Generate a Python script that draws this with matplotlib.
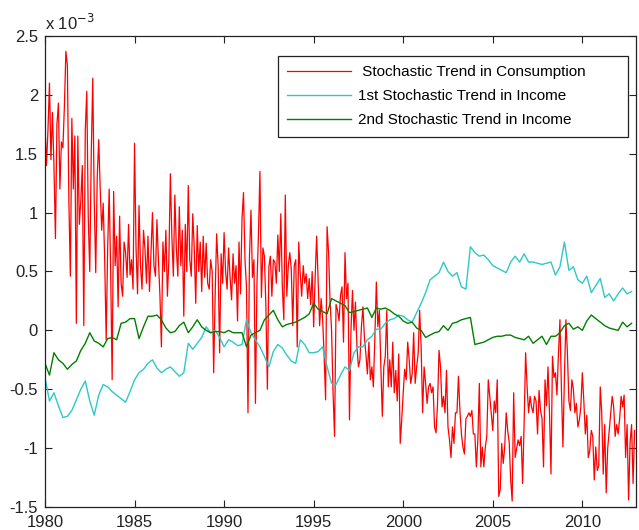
import numpy as np
from matplotlib import pyplot as plt

# Tendencia estocastica en consumo (x 10^-3), mensual, 1980-2012
consumo = [
    1.74, 1.40, 1.70, 2.10, 1.45, 1.85, 1.40, 0.78, 1.75, 1.93, 1.20, 1.60,
    1.55, 1.90, 2.37, 2.25, 1.10, 0.46, 1.80, 1.20, 1.65, 0.06, 1.65, 0.90,
    1.10, 1.40, 0.04, 1.70, 2.03, 0.95, 0.50, 1.50, 2.14, 1.10, 0.49, 1.30,
    1.62, 1.20, 0.85, 1.08, 0.60, -0.08, 0.70, 1.20, 0.50, -0.42, 1.18, 0.55,
    0.80, 0.20, 0.97, 0.40, 0.29, 0.75, 0.66, 0.45, 0.90, 0.47, 0.60, 0.35,
    1.59, 0.70, 0.31, 1.06, 0.55, 0.35, 0.85, 0.69, 0.40, 0.80, 0.33, 0.65,
    1.00, 0.55, 0.46, 0.94, 0.60, 0.30, -0.14, 0.75, 0.50, 0.85, 0.29, 0.60,
    1.33, 0.80, 0.46, 1.15, 0.70, 0.46, 1.05, 0.55, 0.85, 0.12, 0.90, 0.50,
    1.23, 0.60, 0.46, 0.99, 0.70, 0.23, 0.89, 0.50, 0.75, 0.33, 0.80, 0.45,
    0.74, 0.40, 0.35, 0.60, 0.50, -0.36, 0.30, 0.82, 0.55, -0.19, 0.65, 0.40,
    0.83, 0.50, 0.35, 0.70, 0.45, 0.26, 0.65, 0.40, 0.55, 0.08, 0.75, 0.31,
    0.95, 1.17, 0.60, 0.37, -0.70, 0.63, 1.02, 0.45, 0.60, -0.62, 0.39, 0.81,
    1.35, 0.28, 0.70, 0.63, 0.20, -0.50, 0.54, 0.63, 0.29, 0.60, 0.58, 0.40,
    0.81, 0.50, 0.99, 0.37, 0.09, 1.15, 0.29, 0.55, 0.66, 0.52, 0.04, 0.55,
    0.60, -0.14, 0.75, 0.48, 0.29, 0.55, 0.40, 0.48, 0.27, 0.44, 0.22, 0.50,
    0.03, 0.45, 0.80, 0.42, 0.04, 0.27, 0.10, -0.21, -0.59, 0.88, 0.66, 0.24,
    0.00, -0.53, -0.90, 0.22, 0.17, 0.08, 0.30, 0.37, -0.10, 0.66, 0.27, 0.40,
    -0.76, 0.00, 0.34, 0.00, 0.24, -0.14, -0.31, -0.25, 0.03, 0.20, -0.06, -0.20,
    -0.37, -0.10, -0.42, -0.31, -0.48, -0.06, 0.41, 0.03, 0.17, -0.30, -0.73, -0.31,
    -0.22, 0.17, -0.48, -0.25, -0.48, -0.10, -0.53, -0.34, -0.60, -0.20, -0.96, -0.76,
    -0.53, -0.33, -0.42, -0.10, -0.25, -0.45, -0.37, -0.02, -0.45, -0.31, -0.20, 0.17,
    -0.14, -0.70, -0.31, -0.45, -0.62, -0.48, -0.45, -0.53, -0.48, -0.82, -0.87, -0.62,
    -0.17, -0.31, -0.65, -0.56, -0.70, -0.34, -0.82, -0.93, -1.08, -0.82, -0.96, -0.70,
    -0.70, -0.39, -0.68, -0.88, -0.99, -1.05, -0.75, -0.73, -0.70, -0.73, -0.68, -0.88,
    -0.88, -1.16, -0.93, -0.45, -1.16, -0.99, -1.16, -0.99, -0.90, -0.42, -0.56, -0.70,
    -0.85, -0.60, -0.70, -0.42, -1.41, -1.35, -0.96, -1.13, -0.99, -0.70, -0.85, -0.95,
    -1.27, -1.45, -0.53, -1.08, -1.00, -0.93, -0.98, -0.90, -1.30, -0.79, -0.19, -0.48,
    -0.70, -0.56, -0.65, -0.70, -0.56, -0.60, -0.88, -0.51, -0.68, -0.75, -1.16, -0.42,
    -0.64, -0.31, -0.70, -1.22, -0.22, -0.40, -0.36, -0.55, -0.20, 0.09, -0.50, -0.99,
    -0.40, 0.09, -0.19, -0.60, -0.68, -0.42, -0.50, -0.70, -0.62, -0.82, -0.76, -0.65,
    -0.36, -0.60, -0.88, -0.72, -1.08, -1.02, -0.85, -0.90, -1.27, -0.99, -1.19, -1.15,
    -0.48, -0.70, -1.22, -0.80, -1.38, -1.00, -0.85, -0.70, -0.56, -0.65, -0.90, -0.80,
    -0.88, -0.75, -0.56, -0.65, -0.55, -1.08, -0.80, -1.44, -0.95, -0.80, -1.30, -0.85,
]

# Primera tendencia estocastica en ingreso, trimestral
ingreso1 = [
    -0.40, -0.60, -0.53, -0.64,
    -0.74, -0.73, -0.68, -0.59,
    -0.50, -0.43, -0.60, -0.72,
    -0.55, -0.46, -0.48, -0.52,
    -0.55, -0.58, -0.61, -0.52,
    -0.42, -0.36, -0.33, -0.28,
    -0.25, -0.32, -0.36, -0.33,
    -0.31, -0.35, -0.39, -0.36,
    -0.11, -0.16, -0.11, -0.06,
    0.03, -0.02, 0.00, -0.06,
    -0.14, -0.08, -0.10, -0.13,
    -0.12, 0.09, -0.02, -0.08,
    -0.14, -0.22, -0.31, -0.18,
    -0.12, -0.15, -0.21, -0.26,
    -0.28, -0.08, -0.12, -0.19,
    -0.19, -0.18, -0.14, -0.31,
    -0.45, -0.46, -0.38, -0.31,
    -0.34, -0.19, -0.14, -0.14,
    -0.08, -0.05, 0.01, 0.01,
    0.06, 0.09, 0.10, 0.13,
    0.12, 0.09, 0.07, 0.15,
    0.23, 0.32, 0.43, 0.46,
    0.49, 0.58, 0.50, 0.46,
    0.49, 0.37, 0.35, 0.71,
    0.66, 0.63, 0.64, 0.60,
    0.55, 0.53, 0.51, 0.49,
    0.58, 0.63, 0.58, 0.65,
    0.58, 0.58, 0.57, 0.56,
    0.57, 0.58, 0.47, 0.54,
    0.75, 0.51, 0.54, 0.43,
    0.40, 0.46, 0.32, 0.38,
    0.44, 0.28, 0.31, 0.25,
    0.31, 0.36, 0.31, 0.33,
]

# Segunda tendencia estocastica en ingreso, trimestral
ingreso2 = [
    -0.28, -0.38, -0.19, -0.25,
    -0.28, -0.33, -0.29, -0.26,
    -0.17, -0.11, -0.02, -0.09,
    -0.11, -0.14, -0.07, -0.06,
    -0.08, 0.06, 0.07, 0.10,
    0.10, -0.07, 0.03, 0.12,
    0.12, 0.13, 0.09, 0.02,
    -0.02, -0.01, 0.04, 0.07,
    -0.02, 0.03, 0.09, 0.03,
    0.00, -0.02, -0.01, -0.01,
    -0.02, 0.00, -0.02, -0.02,
    -0.02, -0.14, -0.04, -0.02,
    0.00, 0.09, 0.13, 0.17,
    0.09, 0.03, 0.05, 0.06,
    0.07, 0.09, 0.11, 0.14,
    0.23, 0.18, 0.16, 0.14,
    0.27, 0.25, 0.23, 0.21,
    0.15, 0.16, 0.17, 0.18,
    0.19, 0.11, 0.19, 0.18,
    0.19, 0.17, 0.14, 0.12,
    0.08, 0.06, 0.07, 0.02,
    0.00, -0.06, -0.04, -0.02,
    -0.01, 0.04, 0.00, 0.06,
    0.07, 0.09, 0.10, 0.11,
    -0.12, -0.11, -0.10, -0.08,
    -0.06, -0.05, -0.05, -0.04,
    -0.04, -0.06, -0.07, -0.08,
    -0.05, -0.11, -0.08, -0.05,
    -0.12, -0.05, -0.05, -0.02,
    0.04, 0.06, 0.01, 0.03,
    0.00, 0.08, 0.13, 0.10,
    0.07, 0.04, 0.02, 0.01,
    0.00, 0.07, 0.03, 0.06,
]

etiquetas = [' Stochastic Trend in Consumption',
             '1st Stochastic Trend in Income',
             '2nd Stochastic Trend in Income']

# Fechas
t_cons = 1980 + np.arange(len(consumo)) / 12
t_ing1 = 1980 + np.arange(len(ingreso1)) / 4
t_ing2 = 1980 + np.arange(len(ingreso2)) / 4

plt.rcParams['font.family'] = ['Liberation Sans', 'DejaVu Sans']

fig = plt.figure(figsize=(6.39, 5.30), dpi=100)
ax = fig.add_axes([0.0704, 0.0434, 0.925, 0.8887])

ax.plot(t_cons, consumo, color='#ff0000', lw=0.9, label=etiquetas[0])
ax.plot(t_ing1, ingreso1, color='#2ec8c8', lw=1.0, label=etiquetas[1])
ax.plot(t_ing2, ingreso2, color='#007f00', lw=1.0, label=etiquetas[2])

ax.set_xlim(1980, 2013)
ax.set_ylim(-1.5, 2.5)
ax.set_xticks(np.arange(1980, 2011, 5))
ax.set_yticks(np.arange(-1.5, 2.51, 0.5))
ax.set_yticklabels(['-1.5', '-1', '-0.5', '0', '0.5', '1', '1.5', '2', '2.5'])
ax.tick_params(direction='in', length=5, width=0.8, top=True, right=True,
               labelsize=12, colors='#222222')
ax.tick_params(axis='x', pad=6)
ax.tick_params(axis='y', pad=5)
for s in ax.spines.values():
    s.set_linewidth(0.9)
    s.set_color('#222222')

# Multiplicador del eje y
ax.text(0.0, 1.006, r'x 10$^{-3}$', transform=ax.transAxes, fontsize=12,
        color='#222222', ha='left', va='bottom')

leg = ax.legend(loc='upper left', bbox_to_anchor=(0.394, 0.788, 0.592, 0.1695),
                mode='expand', borderaxespad=0, fontsize=11, fancybox=False,
                handlelength=4.2, handletextpad=0.45, labelspacing=0.66,
                borderpad=0.6, edgecolor='#222222', framealpha=1)
leg.get_frame().set_linewidth(0.9)

fig.savefig('out.png', dpi=100)
